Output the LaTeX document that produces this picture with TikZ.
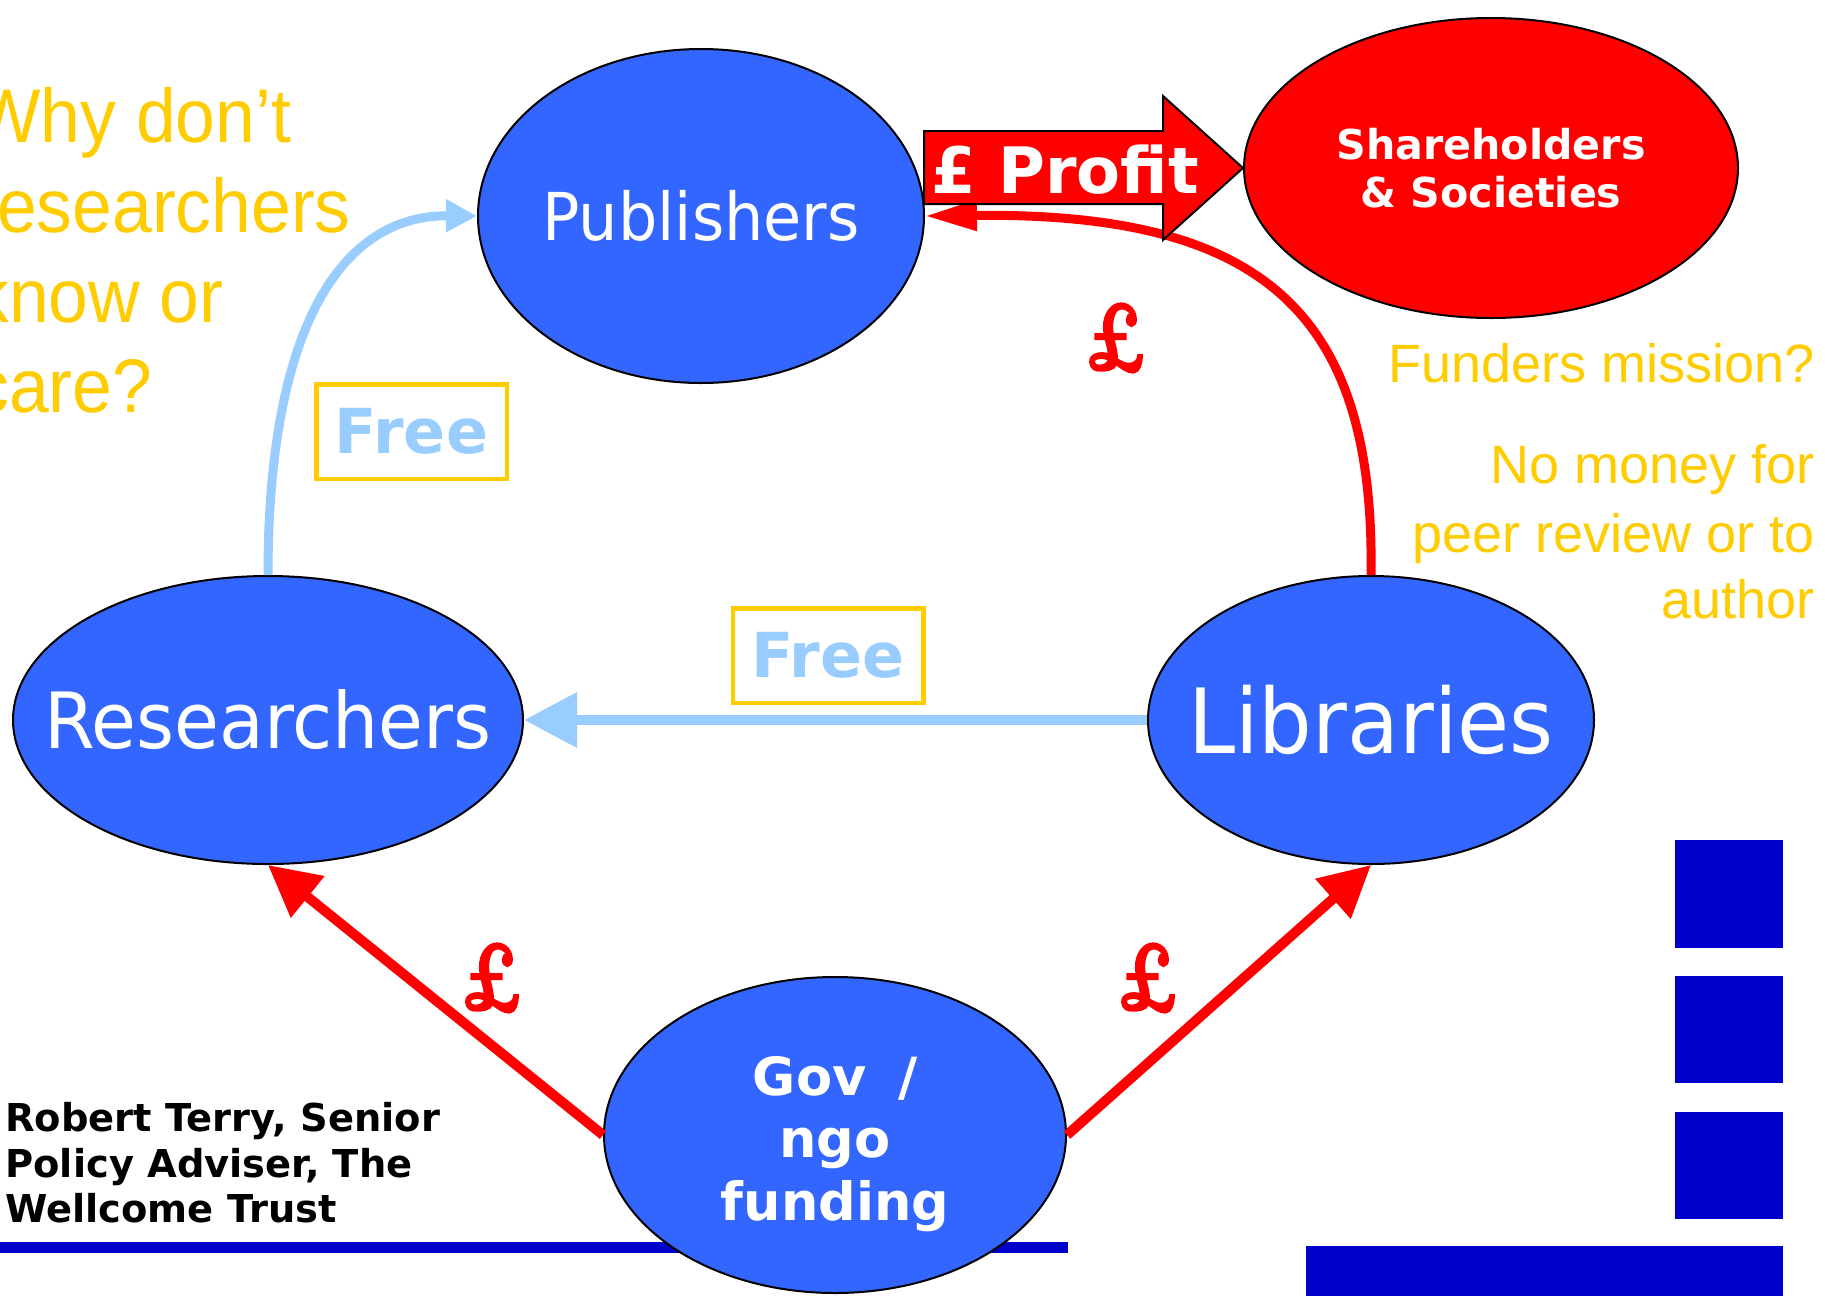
\documentclass[tikz,border=0pt]{standalone}
\usepackage{fontspec}
\usetikzlibrary{shapes.geometric,arrows.meta}
\newfontfamily\verd[FakeStretch=0.94]{DejaVu Sans}
\newfontfamily\dvs{DejaVu Sans}
\newfontfamily\arialc[FakeStretch=0.94]{Liberation Sans}
\newfontfamily\arial{Liberation Sans}
\newfontfamily\lmrb[FakeBold=2.5,FakeStretch=0.72]{lmroman10-bold.otf}
\definecolor{ellblue}{HTML}{3366FF}
\definecolor{lblue}{HTML}{99CCFF}
\definecolor{ylw}{HTML}{FFCC00}
\definecolor{dblue}{HTML}{0000CC}
\definecolor{rd}{HTML}{FF0000}
\tikzset{
  ell/.style={ellipse, draw=black, line width=1pt, inner sep=0pt, fill=ellblue},
  elltext/.style={text=white, inner sep=0pt},
  freebox/.style={draw=ylw, line width=2.25pt, minimum width=95.25pt, minimum height=47.25pt,
    inner sep=0pt, text=lblue, font=\dvs\bfseries\fontsize{31}{37}\selectfont},
  pound/.style={text=rd, inner sep=0pt, font=\lmrb\fontsize{48}{54}\selectfont},
  redarrow/.style={draw=rd, line width=5pt, -{Triangle[length=25.5pt,width=25.5pt]}},
  bluearrow/.style={draw=lblue, line width=5pt, -{Triangle[length=26.5pt,width=26.5pt]}},
  bluecurve/.style={draw=lblue, line width=4.5pt, -{Triangle[length=15.5pt,width=15.5pt]}},
  redcurve/.style={draw=rd, line width=4.5pt, -{Triangle[length=26pt,width=14.5pt]}},
  lefttext/.style={anchor=base west, inner sep=0pt, text=ylw, font=\arialc\fontsize{38}{45}\selectfont},
  righttext/.style={anchor=base east, inner sep=0pt, text=ylw, font=\arial\fontsize{27}{34}\selectfont},
  credit/.style={anchor=base west, inner sep=0pt, text=black, font=\dvs\bfseries\fontsize{19.2}{23}\selectfont},
  sqbox/.style={fill=dblue, draw=none}
}
\begin{document}
\begin{tikzpicture}[x=0.5pt,y=-0.5pt]
\useasboundingbox (0,0) rectangle (1825,1296);
\fill[white] (0,0) rectangle (1825,1296);

% decorative blue bars and squares
\fill[dblue] (0,1242) rectangle (1068,1253);
\fill[sqbox] (1675,840) rectangle (1783,948);
\fill[sqbox] (1675,976) rectangle (1783,1083);
\fill[sqbox] (1675,1112) rectangle (1783,1219);
\fill[sqbox] (1306,1246) rectangle (1783,1296);

% ellipses
\node[ell, minimum width=223pt, minimum height=167pt] (pub) at (701,216) {};
\node[ell, fill=rd, minimum width=247pt, minimum height=150pt] (sh) at (1491,168) {};
\node[ell, minimum width=255pt, minimum height=144pt] (res) at (268,720) {};
\node[ell, minimum width=223pt, minimum height=144pt] (lib) at (1371,720) {};
\node[ell, minimum width=231pt, minimum height=158pt] (gov) at (835,1135) {};

% ellipse texts
\node[elltext, font=\verd\fontsize{33}{40}\selectfont] (pubt) at (pub.center) {Publishers};
\node[elltext, font=\verd\fontsize{38.8}{46}\selectfont] (rest) at (res.center) {Researchers};
\node[elltext, font=\verd\fontsize{45}{52}\selectfont] (libt) at (lib.center) {Libraries};
\node[elltext, align=center, font=\dvs\bfseries\fontsize{20.6}{24}\selectfont] (sht) at (sh.center) {Shareholders\\\& Societies};
\node[elltext, align=center, font=\dvs\bfseries\fontsize{26.3}{31.25}\selectfont] (govt) at ([yshift=-4.5pt]gov.center) {Gov\hspace{0.6em}/\\ngo\\funding};

% connectors
\draw[bluecurve] (res.north) .. controls (268,330) and (340,215) .. (pub.west);
\draw[redcurve] (lib.north) .. controls (1375,315) and (1265,212) .. (pub.east);
\draw[bluearrow] (lib.west) -- (res.east);
\draw[redarrow] (gov.west) -- (res.south);
\draw[redarrow] (gov.east) -- (lib.south);

% profit arrow (drawn over the curve)
\coordinate (pa) at (924,131);
\draw[fill=rd, line width=1pt, line join=miter] (pa) -- (1163,131) -- (1163,96) -- (sh.west) -- (1163,240) -- (1163,204) -- (924,204) -- cycle;
\node[text=white, inner sep=0pt, font=\dvs\bfseries\fontsize{32}{38}\selectfont] (profit) at (1065,170) {£ Profit};

% Free labels
\node[freebox] (free1) at (411.5,431.5) {Free};
\node[freebox] (free2) at (828,655.5) {Free};

% pound labels
\node[pound] (p1) at (1116,338) {£};
\node[pound] (p2) at (492,978) {£};
\node[pound] (p3) at (1148,978) {£};

% left question
\node[lefttext] (q1) at (-27,142) {Why don’t};
\node[lefttext] (q2) at (-27,232) {researchers};
\node[lefttext] (q3) at (-27,322) {know or};
\node[lefttext] (q4) at (-27,412) {care?};

% right notes
\node[righttext] (r1) at (1815,382) {Funders mission?};
\node[righttext] (r2) at (1815,483) {No money for};
\node[righttext] (r3) at (1815,552) {peer review or to};
\node[righttext] (r4) at (1815,618) {author};

% credit
\node[credit] (c1) at (5,1131) {Robert Terry, Senior};
\node[credit] (c2) at (5,1177) {Policy Adviser, The};
\node[credit] (c3) at (5,1222) {Wellcome Trust};
\end{tikzpicture}
\end{document}
